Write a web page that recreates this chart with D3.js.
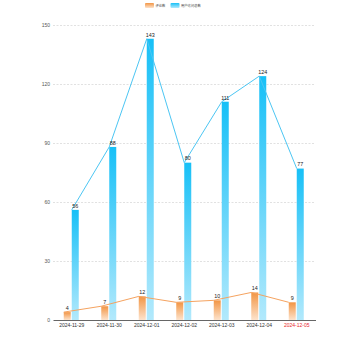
<!DOCTYPE html>
<html><head><meta charset="utf-8">
<script src="https://cdn.jsdelivr.net/npm/d3@7"></script>
<style>html,body{margin:0;padding:0;background:#fff;}svg{display:block;}</style>
</head><body>
<svg id="chart" width="350" height="350"></svg>
<script>
const categories = ["2024-11-29","2024-11-30","2024-12-01","2024-12-02","2024-12-03","2024-12-04","2024-12-05"];
const seriesNames = ["评论数","用户访问总数"];
const comments = [4,7,12,9,10,14,9];
const visits = [56,88,143,80,111,124,77];
const yTicks = [0,30,60,90,120,150];
const highlightCategory = "2024-12-05";

const svg = d3.select("#chart");
const M = {left:53, right:315.5, top:25, bottom:320};
const x = d3.scaleBand().domain(categories).range([M.left, M.right]).padding(0);
const y = d3.scaleLinear().domain([0,150]).range([M.bottom, M.top]);
const sub = d3.scaleBand().domain(seriesNames).range([-8,7]).paddingInner(0.125);
const cx = c => x(c) + x.bandwidth()/2;
const FONT = "Liberation Sans, Arial, sans-serif";

const defs = svg.append("defs");
function grad(id, top, bottom){
  const g = defs.append("linearGradient").attr("id",id).attr("x1",0).attr("y1",0).attr("x2",0).attr("y2",1);
  g.append("stop").attr("offset","0%").attr("stop-color",top);
  g.append("stop").attr("offset","100%").attr("stop-color",bottom);
}
grad("gOrange","#f29544","#fde3cc");
grad("gBlue","#17c0f7","#b2e9fc");

// grid
const yAxis = d3.axisLeft(y).tickValues(yTicks).tickSize(-(M.right-M.left)).tickPadding(3);
const ga = svg.append("g").attr("transform",`translate(${M.left},0)`).call(yAxis);
ga.select(".domain").remove();
ga.selectAll(".tick line").attr("stroke","#d4d4d4").attr("stroke-dasharray","2,1.5").attr("stroke-width",0.7)
  .filter(d=>d===0).remove();
ga.selectAll(".tick text").attr("font-size","5px").attr("fill","#555").attr("font-family",FONT);

// bars
const data = [comments, visits];
const fills = ["url(#gOrange)","url(#gBlue)"];
seriesNames.forEach((s,si)=>{
  svg.append("g").selectAll("rect").data(categories).join("rect")
    .attr("x", c => cx(c) + sub(s))
    .attr("width", sub.bandwidth())
    .attr("y", (c,i) => y(data[si][i]))
    .attr("height", (c,i) => y(0) - y(data[si][i]))
    .attr("fill", fills[si]);
});

// lines
const lineColors = ["#f5a360","#4cc6f3"];
seriesNames.forEach((s,si)=>{
  const line = d3.line().x((d,i)=>cx(categories[i]) + sub(s)).y(d=>y(d));
  svg.append("path").datum(data[si]).attr("d",line).attr("fill","none")
    .attr("stroke",lineColors[si]).attr("stroke-width",1);
});

// value labels
seriesNames.forEach((s,si)=>{
  svg.append("g").selectAll("text").data(categories).join("text")
    .attr("x", c => cx(c) + sub(s) + sub.bandwidth()/2)
    .attr("y", (c,i) => y(data[si][i]) - 2.2)
    .attr("text-anchor","middle")
    .attr("font-size","5.4px").attr("fill","#222")
    .attr("font-family",FONT)
    .text((c,i)=>data[si][i]);
});

// x axis
const xAxis = d3.axisBottom(x).tickSize(0).tickPadding(3);
const gx = svg.append("g").attr("transform",`translate(0,${M.bottom})`).call(xAxis);
gx.select(".domain").attr("stroke","#555").attr("stroke-width",0.9);
gx.selectAll(".tick text").attr("font-size","5px").attr("font-family",FONT)
  .attr("fill", d => d===highlightCategory ? "#e8262a" : "#333");

// legend
const legend = svg.append("g");
const legendItems = [{name:seriesNames[0], x:145, fill:"url(#gOrange)"},{name:seriesNames[1], x:170.5, fill:"url(#gBlue)"}];
legendItems.forEach(it=>{
  legend.append("rect").attr("x",it.x).attr("y",3).attr("width",9).attr("height",5).attr("rx",1).attr("fill",it.fill);
  legend.append("text").attr("x",it.x+10.5).attr("y",7.3).attr("font-size","3.3px").attr("fill","#444")
    .attr("font-family","Noto Sans CJK SC, sans-serif").text(it.name);
});
</script>
</body></html>
